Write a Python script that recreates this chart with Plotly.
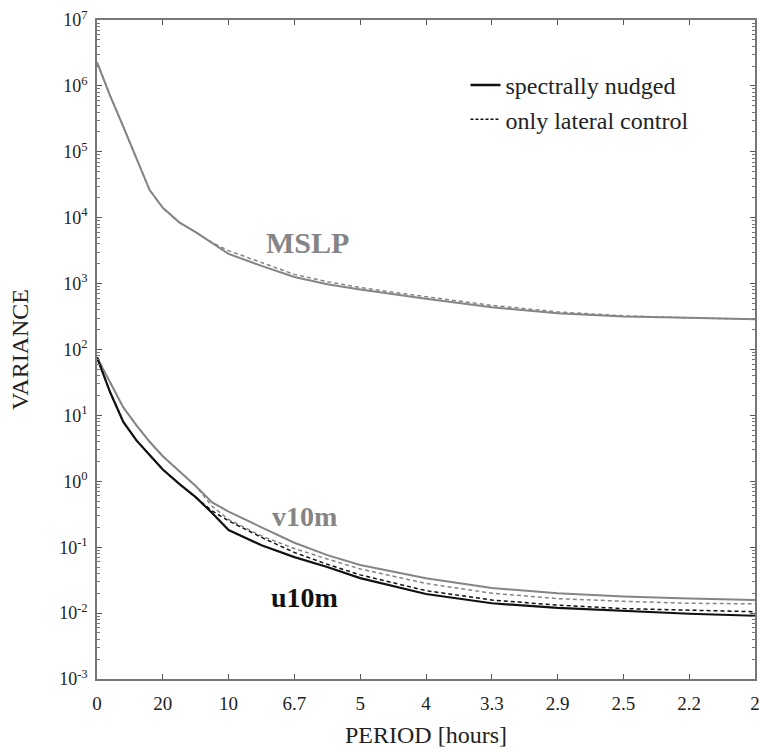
import plotly.graph_objects as go

# frequency [cycles/hour]; x-axis labelled by period
freq = [0, 0.01, 0.02, 0.03, 0.04, 0.05, 0.0625, 0.075, 0.0875, 0.1, 0.125,
        0.15, 0.175, 0.2, 0.25, 0.3, 0.35, 0.4, 0.45, 0.5]

mslp_nudged = [2.29e6, 7.08e5, 2.40e5, 7.94e4, 2.63e4, 1.41e4, 8.51e3, 6.03e3, 4.17e3, 2.82e3,
               1.86e3, 1.26e3, 977, 813, 589, 437, 355, 316, 302, 288]
mslp_lateral = [2.29e6, 7.08e5, 2.40e5, 7.94e4, 2.63e4, 1.41e4, 8.51e3, 6.03e3, 4.17e3, 3.16e3,
                2.09e3, 1.38e3, 1.07e3, 871, 631, 468, 372, 324, 302, 288]

v10m_nudged = [75.9, 31.6, 13.2, 7.08, 3.98, 2.40, 1.41, 0.851, 0.479, 0.347, 0.200,
               0.117, 0.0759, 0.0537, 0.0339, 0.0240, 0.0200, 0.0178, 0.0166, 0.0158]
v10m_lateral = [75.9, 31.6, 13.2, 7.08, 3.98, 2.40, 1.41, 0.851, 0.417, 0.263, 0.148,
                0.0955, 0.0661, 0.0468, 0.0282, 0.0200, 0.0166, 0.0151, 0.0141, 0.0138]

u10m_nudged = [75.9, 22.4, 7.94, 4.17, 2.51, 1.51, 0.912, 0.575, 0.331, 0.182, 0.107,
               0.0708, 0.0501, 0.0339, 0.0195, 0.0141, 0.0120, 0.0107, 0.00977, 0.00912]
u10m_lateral = [75.9, 22.4, 7.94, 4.17, 2.51, 1.51, 0.912, 0.575, 0.355, 0.251, 0.141,
                0.0832, 0.0550, 0.0380, 0.0219, 0.0158, 0.0132, 0.0117, 0.0110, 0.0105]

x_tickvals = [0, 0.05, 0.1, 0.15, 0.2, 0.25, 0.3, 0.35, 0.4, 0.45, 0.5]
x_ticktext = ["0", "20", "10", "6.7", "5", "4", "3.3", "2.9", "2.5", "2.2", "2"]
y_exponents = [-3, -2, -1, 0, 1, 2, 3, 4, 5, 6, 7]

GREY = "#858585"
BLACK = "#111111"
DASH = "4px,3px"
FONT = "Liberation Serif"

fig = go.Figure()

def add(y, color, dash, width):
    fig.add_trace(go.Scatter(x=freq, y=y, mode="lines", showlegend=False,
                             line=dict(color=color, width=width, dash=dash)))

add(mslp_lateral, GREY, DASH, 1.5)
add(mslp_nudged, GREY, "solid", 2)
add(v10m_lateral, GREY, DASH, 1.5)
add(v10m_nudged, GREY, "solid", 2)
add(u10m_lateral, BLACK, DASH, 1.5)
add(u10m_nudged, BLACK, "solid", 2.2)

fig.add_trace(go.Scatter(x=[None], y=[None], mode="lines", name="spectrally nudged",
                         line=dict(color=BLACK, width=2.5)))
fig.add_trace(go.Scatter(x=[None], y=[None], mode="lines", name="only lateral control",
                         line=dict(color=BLACK, width=1.5, dash="3px,2px")))

fig.add_annotation(x=0.16, y=3.63, xref="x", yref="y", text="<b>MSLP</b>", showarrow=False,
                   font=dict(family=FONT, size=30, color=GREY))
fig.add_annotation(x=0.158, y=-0.54, xref="x", yref="y", text="<b>v10m</b>", showarrow=False,
                   font=dict(family=FONT, size=28, color=GREY))
fig.add_annotation(x=0.158, y=-1.76, xref="x", yref="y", text="<b>u10m</b>", showarrow=False,
                   font=dict(family=FONT, size=28, color=BLACK))

fig.update_layout(
    width=759, height=749,
    margin=dict(l=97, r=4, t=20, b=70),
    paper_bgcolor="white", plot_bgcolor="white",
    font=dict(family=FONT, size=18, color="#222"),
    legend=dict(x=0.56, y=0.935, xanchor="left", yanchor="top",
                bgcolor="rgba(0,0,0,0)", font=dict(family=FONT, size=24, color="#222"),
                tracegroupgap=0, itemwidth=30),
)
fig.update_xaxes(
    range=[0, 0.5], tickvals=x_tickvals, ticktext=x_ticktext,
    ticks="inside", ticklen=5, tickcolor="#555", showline=True, linecolor="#777",
    linewidth=1.5, mirror="ticks", showgrid=False, zeroline=False,
    automargin=False, ticklabeloverflow="allow", ticklabelstandoff=6,
    title=dict(text="PERIOD [hours]", font=dict(family=FONT, size=24), standoff=14),
    tickfont=dict(family=FONT, size=19),
)
fig.update_yaxes(
    type="log", range=[-3, 7],
    tickvals=[10 ** e for e in y_exponents],
    ticktext=["10<sup>%d</sup>" % e for e in y_exponents],
    ticks="inside", ticklen=5, tickcolor="#555", showline=True, linecolor="#777",
    linewidth=1.5, mirror="ticks", showgrid=False, zeroline=False,
    automargin=False, ticklabeloverflow="allow", ticklabelstandoff=4,
    minor=dict(ticks="inside", ticklen=3, tickcolor="#777", dtick="D1"),
    title=dict(text="VARIANCE", font=dict(family=FONT, size=24), standoff=24),
    tickfont=dict(family=FONT, size=18),
)

fig.write_html("out.html", config={"displayModeBar": False},
               post_script="document.body.style.margin='0';")
